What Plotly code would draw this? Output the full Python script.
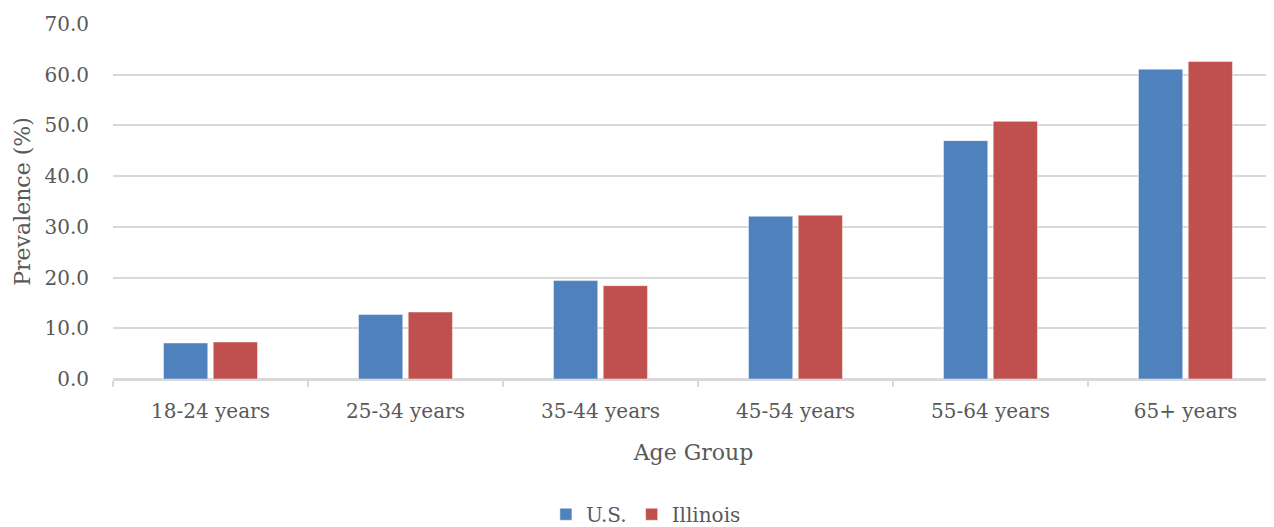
import plotly.graph_objects as go

categories = ["18-24 years", "25-34 years", "35-44 years", "45-54 years", "55-64 years", "65+ years"]
us_values = [7.1, 12.7, 19.4, 32.1, 47.0, 61.1]
il_values = [7.3, 13.2, 18.4, 32.3, 50.8, 62.6]
y_ticks = [0, 10, 20, 30, 40, 50, 60, 70]

FONT = "DejaVu Serif"
TXT = "#595959"
GRID = "#D9D9D9"

fig = go.Figure()
fig.add_trace(go.Bar(
    x=categories, y=us_values, name="U.S.",
    marker=dict(color="#4F81BD", line=dict(color="rgba(255,255,255,0.45)", width=1)),
))
fig.add_trace(go.Bar(
    x=categories, y=il_values, name="Illinois",
    marker=dict(color="#C0504D", line=dict(color="rgba(255,255,255,0.45)", width=1)),
))

# The page places the figure about 8px from the top-left corner, so the
# figure is sized and offset to land where the reference chart sits.
fig.update_layout(
    width=1266, height=519,
    margin=dict(l=105, r=0, t=16, b=148, autoexpand=False),
    paper_bgcolor="white", plot_bgcolor="white",
    barmode="group", bargap=0.49, bargroupgap=0.11,
    font=dict(family=FONT, size=20, color=TXT),
    showlegend=True,
    legend=dict(orientation="h", x=0.459, xanchor="center", y=-0.381, yanchor="middle",
                font=dict(family=FONT, size=20, color=TXT), itemwidth=30, tracegroupgap=0),
)
fig.update_xaxes(
    type="category", range=[-0.5, 5.454], automargin=False,
    showline=True, linecolor=GRID, linewidth=1.5,
    ticks="outside", tickson="boundaries", ticklen=6, tickcolor=GRID, tickwidth=1.5,
    ticklabelstandoff=13,
    showgrid=False, tickfont=dict(family=FONT, size=20, color=TXT),
    title=dict(text="Age Group", font=dict(family=FONT, size=22, color=TXT), standoff=23),
)
fig.update_yaxes(
    range=[0, 70], tickvals=y_ticks, tickformat=".1f", automargin=False,
    showgrid=True, gridcolor=GRID, gridwidth=1.5,
    showline=False, zeroline=True, zerolinecolor=GRID, zerolinewidth=1.5,
    ticks="", ticklabelstandoff=23,
    tickfont=dict(family=FONT, size=20, color=TXT),
    title=dict(text="Prevalence (%)", font=dict(family=FONT, size=22, color=TXT), standoff=7),
)

fig.write_html("out.html")
